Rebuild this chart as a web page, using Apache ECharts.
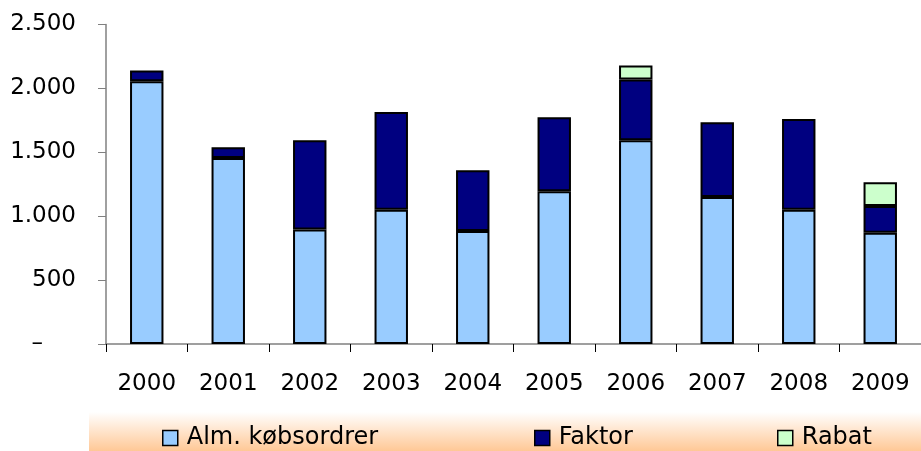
<!DOCTYPE html>
<html>
<head>
<meta charset="utf-8">
<script src="https://cdn.jsdelivr.net/npm/echarts@6/dist/echarts.min.js"></script>
<style>
  html, body { margin: 0; padding: 0; background: #fff; }
  #chart { width: 921px; height: 451px; }
</style>
</head>
<body>
<div id="chart"></div>
<script>
// data
const years = ['2000', '2001', '2002', '2003', '2004', '2005', '2006', '2007', '2008', '2009'];
const almKob = [2055, 1455, 895, 1050, 885, 1195, 1595, 1150, 1050, 870];
const faktor = [85, 85, 700, 765, 475, 580, 475, 585, 710, 210];
const rabat = [0, 0, 0, 0, 0, 0, 110, 0, 0, 185];
const yTicks = [0, 500, 1000, 1500, 2000, 2500];

const FONT = 'DejaVu Sans';

function fmtNum(v) {
	if (v === 0) return '{d|–}';
	return String(v).replace(/\B(?=(\d{3})+(?!\d))/g, '.');
}

function barSeries(name, data, color) {
	return {
		name: name,
		type: 'bar',
		stack: 'total',
		barWidth: '41%',
		data: data.map(v => v === 0 ? null : v),
		itemStyle: {
			color: color,
			borderColor: '#000',
			borderWidth: 2
		},
		emphasis: { disabled: true }
	};
}

const chart = echarts.init(document.getElementById('chart'), null, { renderer: 'canvas' });

let option = {
	animation: false,
	backgroundColor: '#fff',
	grid: {
		left: 106,
		top: 24.5,
		width: 820,
		bottom: 107,
		containLabel: false
	},
	graphic: [{
		type: 'rect',
		z: -1,
		shape: { x: 89, y: 412, width: 832, height: 39 },
		style: {
			fill: new echarts.graphic.LinearGradient(0, 0, 0, 1, [
				{ offset: 0, color: '#ffffff' },
				{ offset: 1, color: '#ffc896' }
			])
		}
	}],
	legend: [
		{ data: ['Alm. købsordrer'], left: 162, top: 426 },
		{ data: ['Faktor'], left: 534, top: 426 },
		{ data: ['Rabat'], left: 777, top: 426 }
	].map(l => Object.assign({
		icon: 'rect',
		padding: 0,
		itemWidth: 15,
		itemHeight: 15,
		itemGap: 0,
		itemStyle: { borderColor: '#000', borderWidth: 1.5 },
		textStyle: { fontFamily: FONT, fontSize: 24, color: '#000', padding: [0, 0, 0, 4] },
		selectedMode: false
	}, l)),
	xAxis: {
		type: 'category',
		data: years,
		boundaryGap: true,
		axisLine: { lineStyle: { color: '#808080', width: 1.5 } },
		axisTick: { show: true, length: 8, alignWithLabel: false, lineStyle: { color: '#000', width: 1 } },
		axisLabel: { fontFamily: FONT, fontSize: 23, color: '#000', margin: 29 }
	},
	yAxis: {
		type: 'value',
		min: yTicks[0],
		max: yTicks[yTicks.length - 1],
		interval: 500,
		splitLine: { show: false },
		axisLine: { show: true, lineStyle: { color: '#808080', width: 1.5 } },
		axisTick: { show: true, length: 8, lineStyle: { color: '#808080', width: 1 } },
		axisLabel: {
			fontFamily: FONT,
			fontSize: 23,
			color: '#000',
			margin: 30,
			formatter: fmtNum,
			rich: {
				d: { fontFamily: FONT, fontSize: 23, color: '#000', padding: [0, 33, 0, 0] }
			}
		}
	},
	series: [
		barSeries('Alm. købsordrer', almKob, '#99ccff'),
		barSeries('Faktor', faktor, '#000080'),
		barSeries('Rabat', rabat, '#ccffcc')
	]
};

chart.setOption(option);
</script>
</body>
</html>
